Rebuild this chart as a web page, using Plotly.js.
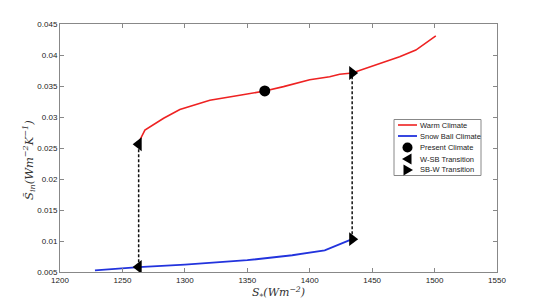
<!DOCTYPE html>
<html>
<head>
<meta charset="utf-8">
<script src="https://cdn.plot.ly/plotly-3.0.1.min.js"></script>
<style>html,body{margin:0;padding:0;background:#fff;}#chart{width:538px;height:306px;}</style>
</head>
<body>
<div id="chart"></div>
<script>
// Data
const warmX = [1263, 1264, 1268, 1283, 1296, 1320, 1344, 1364, 1379, 1400, 1416, 1424, 1434, 1448, 1472, 1485, 1501];
const warmY = [0.0256, 0.0263, 0.0279, 0.0298, 0.0312, 0.0327, 0.0335, 0.0342, 0.0349, 0.0360, 0.0365, 0.0369, 0.0371, 0.0381, 0.0397, 0.0408, 0.0431];
const snowX = [1228, 1263, 1300, 1350, 1386, 1412, 1434];
const snowY = [0.00526, 0.0058, 0.0062, 0.0069, 0.0077, 0.0085, 0.0103];
const presentX = [1364];
const presentY = [0.0342];
const wsbX = [1263, 1263];
const wsbY = [0.0256, 0.0058];
const sbwX = [1434, 1434];
const sbwY = [0.0103, 0.0371];
const xTicks = [1200, 1250, 1300, 1350, 1400, 1450, 1500, 1550];
const yTicks = [0.005, 0.01, 0.015, 0.02, 0.025, 0.03, 0.035, 0.04, 0.045];
const yTickText = ['0.005', '0.01', '0.015', '0.02', '0.025', '0.03', '0.035', '0.04', '0.045'];
const legendNames = ['Warm Climate', 'Snow Ball Climate', 'Present Climate', 'W-SB Transition', 'SB-W Transition'];
const xTitle = '<i>S<sub>*</sub>(Wm<sup>−2</sup>)</i>';
const yTitle = '<i>S\u0303<sub>in</sub>(Wm<sup>−2</sup>K<sup>−1</sup>)</i>';

const red = '#ee2222', blue = '#2233dd';
const traces = [
  {x: wsbX, y: wsbY, mode: 'lines', line: {color: '#111', width: 1.5, dash: '3px,2px'}, showlegend: false, hoverinfo: 'skip'},
  {x: sbwX, y: sbwY, mode: 'lines', line: {color: '#111', width: 1.5, dash: '3px,2px'}, showlegend: false, hoverinfo: 'skip'},
  {x: warmX, y: warmY, mode: 'lines', name: legendNames[0], line: {color: red, width: 1.6}},
  {x: snowX, y: snowY, mode: 'lines', name: legendNames[1], line: {color: blue, width: 1.8}},
  {x: presentX, y: presentY, mode: 'markers', name: legendNames[2], marker: {symbol: 'circle', size: 11, color: '#000'}},
  {x: [wsbX[0], wsbX[1]], y: [wsbY[0], wsbY[1]], mode: 'markers', name: legendNames[3], marker: {symbol: 'triangle-left', size: 12, color: '#000'}},
  {x: [sbwX[0], sbwX[1]], y: [sbwY[0], sbwY[1]], mode: 'markers', name: legendNames[4], marker: {symbol: 'triangle-right', size: 12, color: '#000'}}
];

// Manual compact legend (decoration) in paper coordinates
const L = 60, T = 24, W = 437, H = 248;
const px = v => (v - L) / W;
const py = v => (T + H - v) / H;
const rows = [125, 136, 147.5, 159, 170];
const shapes = [
  {type: 'rect', xref: 'paper', yref: 'paper', x0: px(394), x1: px(481), y0: py(119.5), y1: py(175.5), line: {color: '#888', width: 1}, fillcolor: '#fff', layer: 'above'},
  {type: 'line', xref: 'paper', yref: 'paper', x0: px(398), x1: px(417), y0: py(rows[0]), y1: py(rows[0]), line: {color: red, width: 1.6}, layer: 'above'},
  {type: 'line', xref: 'paper', yref: 'paper', x0: px(398), x1: px(417), y0: py(rows[1]), y1: py(rows[1]), line: {color: blue, width: 1.8}, layer: 'above'},
  {type: 'circle', xref: 'paper', yref: 'paper', xsizemode: 'pixel', ysizemode: 'pixel', xanchor: px(407.5), yanchor: py(rows[2]), x0: -5, x1: 5, y0: -5, y1: 5, fillcolor: '#000', line: {width: 0}, layer: 'above'},
  {type: 'path', xref: 'paper', yref: 'paper', xsizemode: 'pixel', ysizemode: 'pixel', xanchor: px(407.5), yanchor: py(rows[3]), path: 'M 4 -5.5 L 4 5.5 L -5.5 0 Z', fillcolor: '#000', line: {width: 0}, layer: 'above'},
  {type: 'path', xref: 'paper', yref: 'paper', xsizemode: 'pixel', ysizemode: 'pixel', xanchor: px(407.5), yanchor: py(rows[4]), path: 'M -4 -5.5 L -4 5.5 L 5.5 0 Z', fillcolor: '#000', line: {width: 0}, layer: 'above'}
];
const annotations = legendNames.map((n, i) => ({
  xref: 'paper', yref: 'paper', x: px(418), y: py(rows[i]), xanchor: 'left', yanchor: 'middle',
  text: n, showarrow: false, font: {family: 'Liberation Sans, Arial, sans-serif', size: 7.5, color: '#222'}
}));
// y-axis title as rotated annotation for exact placement
annotations.push({
  xref: 'paper', yref: 'paper', x: px(29), y: py(160), xanchor: 'center', yanchor: 'middle',
  text: yTitle, textangle: -90, showarrow: false,
  font: {family: 'DejaVu Serif, serif', size: 11.5, color: '#333'}
});

const layout = {
  width: 538, height: 306,
  margin: {l: L, r: 538 - L - W, t: T, b: 306 - T - H},
  paper_bgcolor: '#fff', plot_bgcolor: '#fff',
  showlegend: false,
  font: {family: 'Liberation Sans, Arial, sans-serif', size: 8, color: '#222'},
  xaxis: {
    range: [1200, 1550], tickvals: xTicks, ticks: 'inside', ticklen: 4, tickcolor: '#888',
    showline: true, linecolor: '#888', linewidth: 1, mirror: 'ticks', showgrid: false, zeroline: false,
    tickfont: {size: 8, color: '#222'},
    title: {text: xTitle, font: {family: 'DejaVu Serif, serif', size: 11, color: '#333'}, standoff: 2}
  },
  yaxis: {
    range: [0.005, 0.045], tickvals: yTicks, ticktext: yTickText, ticks: 'inside', ticklen: 4, tickcolor: '#888',
    showline: true, linecolor: '#888', linewidth: 1, mirror: 'ticks', showgrid: false, zeroline: false,
    tickfont: {size: 8, color: '#222'}
  },
  shapes: shapes,
  annotations: annotations
};

Plotly.newPlot('chart', traces, layout, {displayModeBar: false, staticPlot: true});
</script>
</body>
</html>
